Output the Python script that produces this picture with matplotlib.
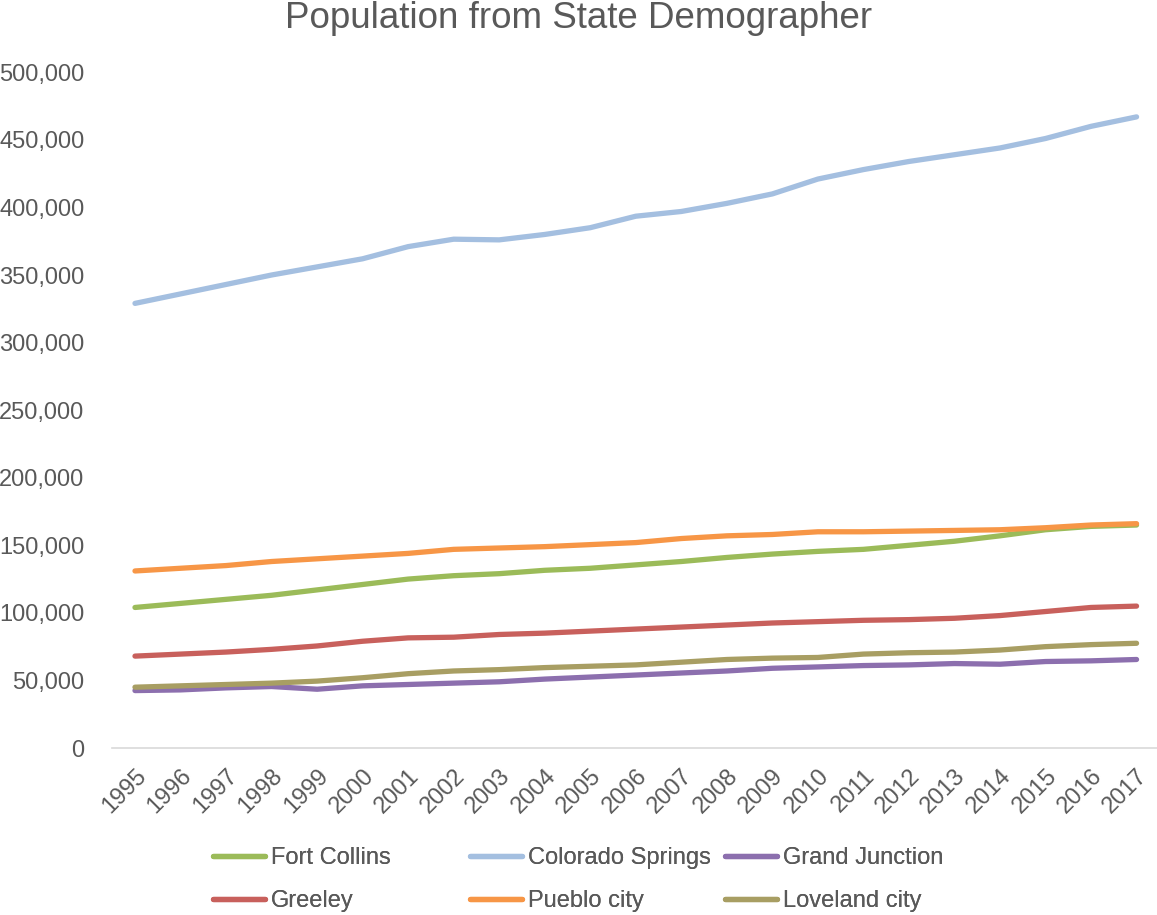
import matplotlib.pyplot as plt
from matplotlib.ticker import FuncFormatter

years = list(range(1995, 2018))

fort_collins = [104000, 107000, 110000, 113000, 117000, 121000, 125000, 127500, 129000, 131500,
                133000, 135500, 138000, 141000, 143500, 145500, 147000, 150000, 153000, 157000,
                161500, 164000, 165000]
colorado_springs = [329000, 336000, 343000, 350000, 356000, 362000, 371000, 376500, 376000, 380000,
                    385000, 393500, 397000, 403000, 410000, 421000, 428000, 434000, 439000, 444000,
                    451000, 460000, 467000]
grand_junction = [42500, 43000, 44500, 45500, 43500, 46000, 47000, 48000, 49000, 51000,
                  52500, 54000, 55500, 57000, 59000, 60000, 61000, 61500, 62500, 62000,
                  64000, 64500, 65500]
greeley = [68000, 69500, 71000, 73000, 75500, 79000, 81500, 82000, 84000, 85000,
           86500, 88000, 89500, 91000, 92500, 93500, 94500, 95000, 96000, 98000,
           101000, 104000, 105000]
pueblo = [131000, 133000, 135000, 138000, 140000, 142000, 144000, 147000, 148000, 149000,
          150500, 152000, 155000, 157000, 158000, 160000, 160000, 160500, 161000, 161500,
          163000, 165000, 166000]
loveland = [45000, 46000, 47000, 48000, 49500, 52000, 55000, 57000, 58000, 59500,
            60500, 61500, 63500, 65500, 66500, 67000, 69500, 70500, 71000, 72500,
            75000, 76500, 77500]

series = [
    ('Fort Collins', fort_collins, '#9BBB59'),
    ('Colorado Springs', colorado_springs, '#A4BFE0'),
    ('Grand Junction', grand_junction, '#8C6FAE'),
    ('Greeley', greeley, '#C8605C'),
    ('Pueblo city', pueblo, '#F79646'),
    ('Loveland city', loveland, '#A89E63'),
]

plt.rcParams['font.family'] = ['Liberation Sans', 'DejaVu Sans']
grey = '#595959'

fig = plt.figure(figsize=(11.57, 9.15), dpi=100)
ax = fig.add_axes([0.097, 0.1825, 0.905, 0.7385])

lines = {}
for name, vals, color in series:
    ln, = ax.plot(range(len(years)), vals, color=color, linewidth=3.8,
                  solid_capstyle='round', label=name)
    lines[name] = ln

ax.set_xlim(-0.5, len(years) - 0.5)
ax.set_ylim(0, 500000)
ax.set_yticks(range(0, 500001, 50000))
ax.yaxis.set_major_formatter(FuncFormatter(lambda v, p: f'{int(v):,}'))
ax.set_xticks(range(len(years)))
ax.set_xticklabels([str(y) for y in years], rotation=45, ha='right',
                   rotation_mode='anchor')

for side in ['top', 'right', 'left']:
    ax.spines[side].set_visible(False)
ax.spines['bottom'].set_color('#D9D9D9')
ax.spines['bottom'].set_linewidth(1.2)
ax.tick_params(axis='both', length=0, labelsize=17, colors=grey)
ax.tick_params(axis='y', pad=20)
ax.tick_params(axis='x', pad=12)

fig.text(0.5, 1 - 18 / 915, 'Population from State Demographer', fontsize=26.5,
         color=grey, ha='center', va='center')

# Excel-style legend: three fixed columns, two rows each
columns = [(0.184, ['Fort Collins', 'Greeley']),
           (0.406, ['Colorado Springs', 'Pueblo city']),
           (0.627, ['Grand Junction', 'Loveland city'])]
for x0, names in columns:
    leg = fig.legend([lines[n] for n in names], names, loc='upper left',
                     bbox_to_anchor=(x0, 1 - 847 / 915), ncol=1, frameon=False,
                     fontsize=17, labelcolor=grey, handlelength=2.2,
                     handletextpad=0.25, labelspacing=0.9, borderpad=0,
                     borderaxespad=0)
    fig.add_artist(leg)

fig.savefig('out.png', dpi=100)
